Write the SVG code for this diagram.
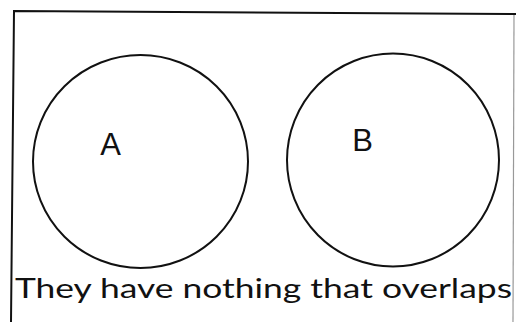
<svg xmlns="http://www.w3.org/2000/svg" width="516" height="322" viewBox="0 0 516 322">
<style>
.frame{fill:none;stroke:#111;stroke-width:2}
.frame2{fill:none;stroke:#999;stroke-width:1.2}
.set{fill:none;stroke:#111;stroke-width:2}
.lbl{font-family:"Liberation Sans","Lato",sans-serif;font-size:31px;fill:#111}
.cap{font-family:"Lato","Liberation Sans",sans-serif;font-size:26px;fill:#111}
</style>
<rect width="516" height="322" fill="#fff"/>
<g id="frame">
<path class="frame" d="M11 322 L14 11 L516 14"/>
<path class="frame2" d="M514 15 L513 322"/>
</g>
<g id="setA">
<ellipse class="set" cx="140.5" cy="161.5" rx="107.5" ry="106.5"/>
<text class="lbl" x="110.5" y="155" text-anchor="middle">A</text>
</g>
<g id="setB">
<ellipse class="set" cx="393" cy="160" rx="106" ry="106.5"/>
<text class="lbl" x="362.5" y="151" text-anchor="middle">B</text>
</g>
<g id="connectors"></g>
<text class="cap" x="15" y="298" textLength="497" lengthAdjust="spacingAndGlyphs">They have nothing that overlaps</text>
</svg>
